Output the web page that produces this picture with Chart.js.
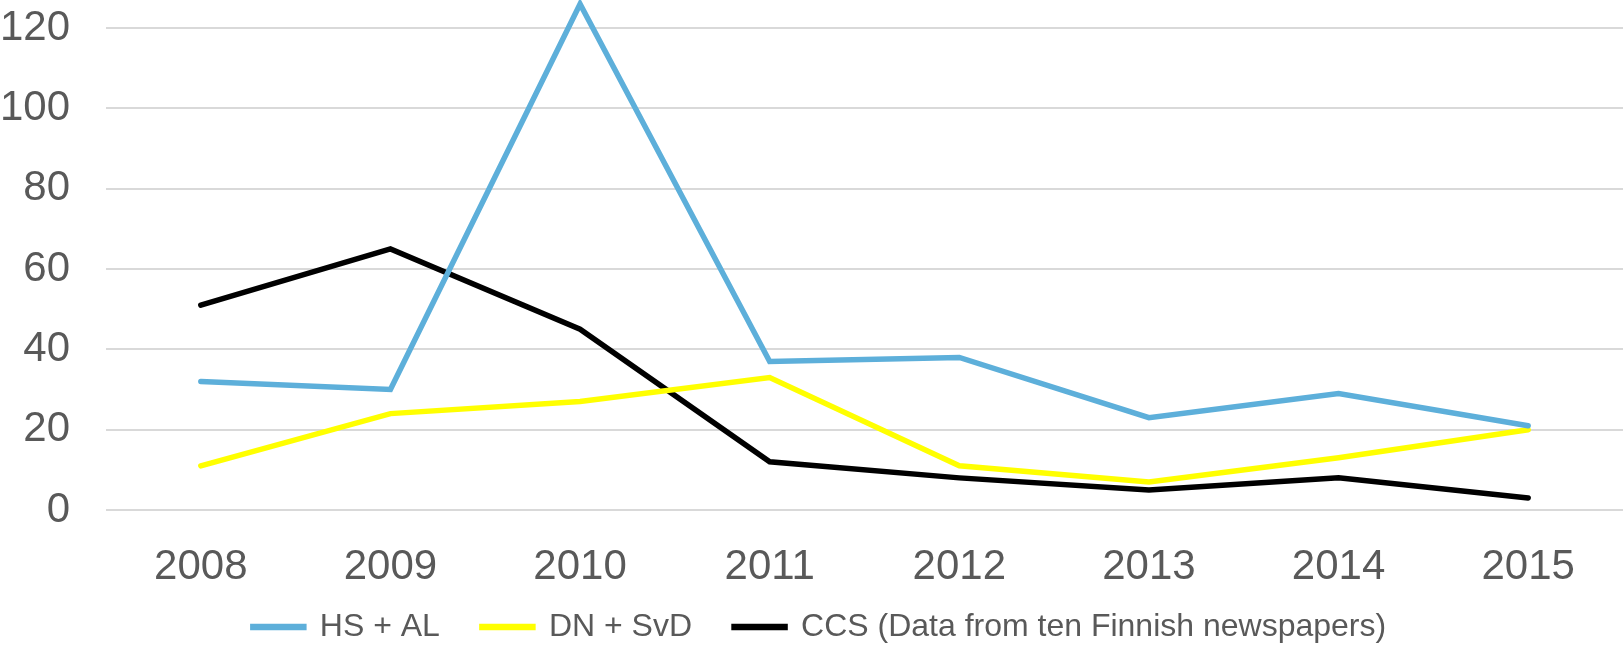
<!DOCTYPE html>
<html>
<head>
<meta charset="utf-8">
<script src="https://cdn.jsdelivr.net/npm/chart.js@4/dist/chart.umd.min.js"></script>
<style>
  body { margin: 0; background: #fff; }
  #wrap { width: 1623px; height: 649px; }
</style>
</head>
<body>
<div id="wrap"><canvas id="chart" width="1623" height="649"></canvas></div>
<script>
// years on the x axis
const years = ['2008', '2009', '2010', '2011', '2012', '2013', '2014', '2015']

// series values
const hsAl = [32, 30, 126, 37, 38, 23, 29, 21]
const dnSvd = [11, 24, 27, 33, 11, 7, 13, 20]
const ccs = [51, 65, 45, 12, 8, 5, 8, 3]

const seriesNames = ['HS + AL', 'DN + SvD', 'CCS (Data from ten Finnish newspapers)']
const seriesColors = ['#5DAFDA', '#FFFF00', '#000000']

const textColor = '#595959'
const fontFamily = '"Liberation Sans", Arial, sans-serif'

let makeSet = function (label, data, color) {
  return {
    label: label,
    data: data,
    borderColor: color,
    backgroundColor: color,
    borderWidth: 5.5,
    borderCapStyle: 'round',
    pointRadius: 0,
    pointHoverRadius: 0,
    tension: 0,
    fill: false,
    clip: false,
  }
}

// nudge the legend a little, and let the year labels run below their box
let legendNudge = {
  id: 'legendNudge',
  afterLayout: function (chart) {
    let l = chart.legend
    l.left += 8
    l.right += 8
    l.top += 4
    l.bottom += 4
    let x = chart.scales.x
    x.bottom += 40
    x.height += 40
  },
}

let ctx = document.getElementById('chart').getContext('2d')

new Chart(ctx, {
  type: 'line',
  data: {
    labels: years,
    datasets: [
      makeSet(seriesNames[0], hsAl, seriesColors[0]),
      makeSet(seriesNames[1], dnSvd, seriesColors[1]),
      makeSet(seriesNames[2], ccs, seriesColors[2]),
    ],
  },
  plugins: [legendNudge],
  options: {
    responsive: false,
    animation: false,
    plugins: {
      legend: {
        position: 'bottom',
        labels: {
          boxWidth: 51,
          boxHeight: 1,
          padding: 42,
          color: textColor,
          font: { family: fontFamily, size: 32 },
        },
      },
      title: { display: false },
      tooltip: { enabled: false },
    },
    scales: {
      x: {
        offset: true,
        grid: { display: false, drawTicks: false },
        border: { display: false },
        ticks: {
          color: textColor,
          padding: 32,
          maxRotation: 0,
          font: { family: fontFamily, size: 42 },
        },
        afterFit: function (s) {
          s.height = 55
          s.paddingLeft = 0
          s.paddingRight = 0
        },
      },
      y: {
        min: 0,
        max: 127,
        grid: { color: '#D9D9D9', lineWidth: 2, drawTicks: false },
        border: { display: false },
        ticks: {
          stepSize: 20,
          includeBounds: false,
          color: textColor,
          padding: 36,
          font: { family: fontFamily, size: 42 },
        },
        afterFit: function (s) {
          s.width = 106
          s.paddingTop = 0
          s.paddingBottom = 0
        },
      },
    },
  },
})
</script>
</body>
</html>
